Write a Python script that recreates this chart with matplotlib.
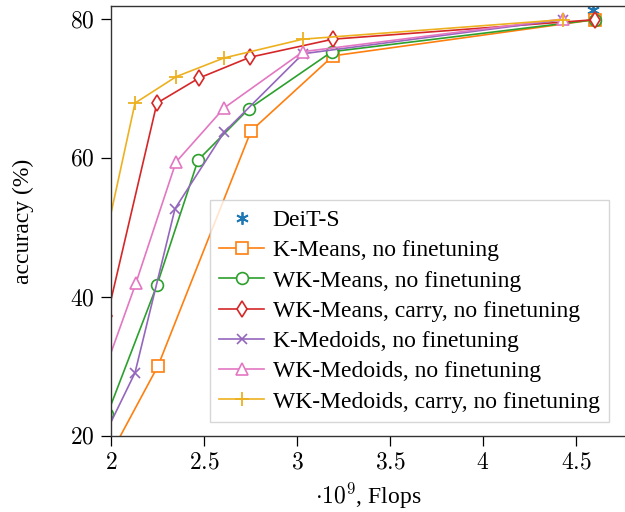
import matplotlib
matplotlib.use("Agg")
import matplotlib.pyplot as plt

plt.rcParams['font.family'] = ['Liberation Serif', 'DejaVu Serif']
plt.rcParams['mathtext.fontset'] = 'cm'

# DeiT-S reference
deit_x = [4.59]
deit_y = [81.3]

# K-Means family
kmeans_x = [1.98, 2.253, 2.753, 3.194, 4.60]
kmeans_y = [16.5, 30.1, 63.9, 74.7, 79.9]
wkmeans_x = [1.98, 2.247, 2.468, 2.742, 3.188, 4.60]
wkmeans_y = [23.1, 41.7, 59.7, 67.1, 75.3, 79.9]
wkmeans_carry_x = [1.98, 2.247, 2.473, 2.747, 3.194, 4.60]
wkmeans_carry_y = [37.3, 67.9, 71.5, 74.5, 77.1, 79.9]

# K-Medoids family
kmedoids_x = [1.92, 2.129, 2.344, 2.608, 3.032, 4.43]
kmedoids_y = [17.6, 29.1, 52.7, 63.7, 75.0, 79.9]
wkmedoids_x = [1.92, 2.134, 2.349, 2.608, 3.032, 4.43]
wkmedoids_y = [26.0, 42.0, 59.4, 67.2, 75.3, 80.0]
wkmedoids_carry_x = [1.92, 2.129, 2.350, 2.608, 3.032, 4.43]
wkmedoids_carry_y = [42.2, 67.9, 71.7, 74.4, 77.1, 79.9]

labels = ["DeiT-S", "K-Means, no finetuning", "WK-Means, no finetuning",
          "WK-Means, carry, no finetuning", "K-Medoids, no finetuning",
          "WK-Medoids, no finetuning", "WK-Medoids, carry, no finetuning"]

xticks = [2, 2.5, 3, 3.5, 4, 4.5]
xtick_labels = ["2", "2.5", "3", "3.5", "4", "4.5"]
yticks = [20, 40, 60, 80]
ytick_labels = ["20", "40", "60", "80"]

fig = plt.figure(figsize=(6.25, 5.12), dpi=100)
ax = fig.add_axes([111/625, 1-436/512, 1-111/625, (436-6)/512])

lw = 1.2
ms = 8.5
ax.plot(deit_x, deit_y, linestyle='none', marker=(6, 2, 0), color='#1f77b4',
        markersize=9, markeredgewidth=1.3, label=labels[0])
ax.plot(kmeans_x, kmeans_y, color='#ff7f0e', marker='s', mfc='white', ms=ms,
        lw=lw, mew=1.2, label=labels[1])
ax.plot(wkmeans_x, wkmeans_y, color='#2ca02c', marker='o', mfc='white', ms=ms,
        lw=lw, mew=1.2, label=labels[2])
ax.plot(wkmeans_carry_x, wkmeans_carry_y, color='#d62728', marker='d', mfc='white',
        ms=ms, lw=lw, mew=1.2, label=labels[3])
ax.plot(kmedoids_x, kmedoids_y, color='#9467bd', marker='x', ms=7, lw=lw,
        mew=1.2, label=labels[4])
ax.plot(wkmedoids_x, wkmedoids_y, color='#e377c2', marker='^', mfc='white',
        ms=ms, lw=lw, mew=1.2, label=labels[5])
ax.plot(wkmedoids_carry_x, wkmedoids_carry_y, color='#edb120', marker='+',
        ms=10, lw=lw, mew=1.3, label=labels[6])

ax.set_xlim(2, 2 + (625 - 111) / 186)
ax.set_ylim(20, 80 + 13 / 6.95)
ax.set_xticks(xticks)
ax.set_xticklabels(['$' + t + '$' for t in xtick_labels])
ax.set_yticks(yticks)
ax.set_yticklabels(['$' + t + '$' for t in ytick_labels])
ax.tick_params(direction='out', length=7, width=0.9, labelsize=17, pad=5)
for s in ['left', 'bottom', 'top']:
    ax.spines[s].set_linewidth(1.0)
    ax.spines[s].set_color('#333333')
ax.spines['right'].set_visible(False)

ax.set_xlabel(r'$\cdot 10^9$, Flops', fontsize=17, labelpad=5)
ax.set_ylabel('accuracy (%)', fontsize=17, labelpad=26)

leg = ax.legend(loc='lower left', bbox_to_anchor=((210-111)/514, (436-422)/430),
                fontsize=17, frameon=True, fancybox=False, edgecolor='#cccccc',
                handlelength=1.9, labelspacing=0.37, borderpad=0.4,
                handletextpad=0.35, borderaxespad=0)
leg.get_frame().set_linewidth(1.0)

fig.savefig('out.png', dpi=100)
